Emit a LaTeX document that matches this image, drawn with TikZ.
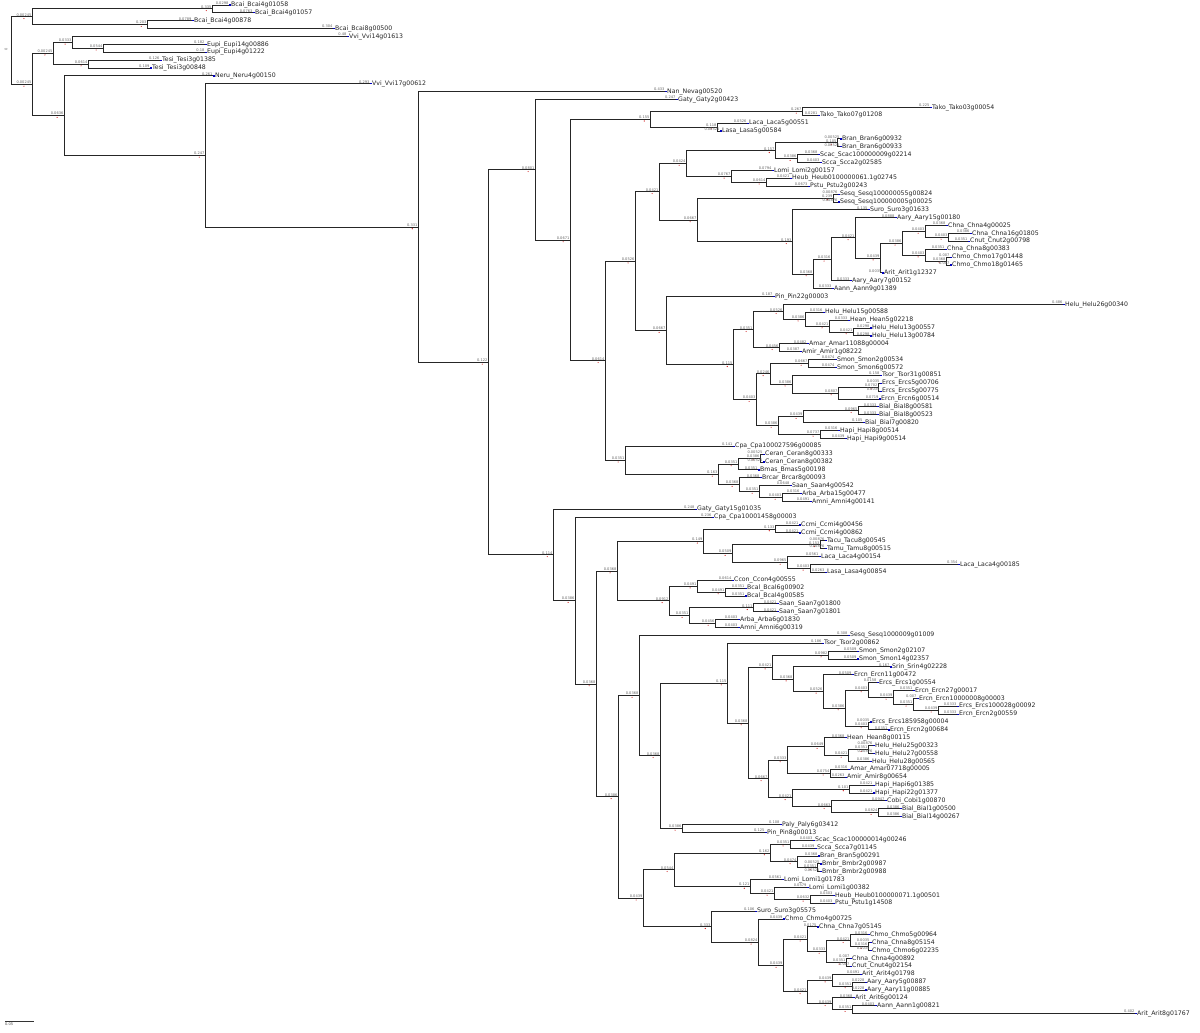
\documentclass[tikz,border=0pt]{standalone}
\usepackage{fontspec}
\newfontfamily\dvs{DejaVu Sans}
\usetikzlibrary{calc}
\newcommand\lffont{\dvs\fontsize{6.2}{7}\selectfont}
\newcommand\blfont{\dvs\fontsize{3.6}{4}\selectfont}
\tikzset{
  branch/.style={draw=black!85, line width=1pt},
  blab/.style={anchor=south east, inner sep=0pt, outer sep=0pt, yshift=0.7pt, xshift=-0.6pt, font=\blfont, text=black!60},
  leafname/.style={anchor=west, inner sep=0pt, xshift=2pt, font=\lffont, text=black!85},
  nodemark/.style={fill=red!80!black},
  leafmark/.style={fill=blue!75!black},
}
\newcommand\lf[3]{\coordinate (L#1) at (#2,#1); \node[leafname] (T#1) at (L#1) {#3};}
\newcommand\nd[3]{\coordinate (#1) at (#2,#3);}
\newcommand\edgelab[3]{%
  \draw[branch] (#2) |- (#3);
  \def\tmplab{#1}%
  \ifx\tmplab\empty
    \path let \p1=(#2), \p2=(#3) in
      node[blab] (bl) at (#3) {\pgfmathsetmacro\blen{(\x2-\x1)/570}\pgfmathtruncatemacro\prc{(\blen<0.01) ? 5 : ((\blen<0.1) ? 4 : 3)}\pgfmathprintnumber[fixed,precision=\prc,assume math mode=true]{\blen}};
  \else
    \node[blab] (bl) at (#3) {#1};
  \fi}
\newcommand\bi[3][]{\edgelab{#1}{#2}{#3}\fill[nodemark] ([yshift=-2.4pt]bl.south) circle (0.55pt);}
\newcommand\bl[3][]{\edgelab{#1}{#2}{L#3}\fill[leafmark] (L#3) ++(0pt,-0.6pt) rectangle ++(1.6pt,1.2pt);}
\begin{document}
\begin{tikzpicture}[x=1pt,y=-7.88pt]
\useasboundingbox[fill=white] (0,-0.6345) rectangle (1200,130.33);
% leaves
\lf{0}{229}{Bcai\_Bcai4g01058}
\lf{1}{253}{Bcai\_Bcai4g01057}
\lf{2}{192}{Bcai\_Bcai4g00878}
\lf{3}{333}{Bcai\_Bcai8g00500}
\lf{4}{347}{Vvi\_Vvi14g01613}
\lf{5}{205}{Eupi\_Eupi14g00886}
\lf{6}{205}{Eupi\_Eupi4g01222}
\lf{7}{160}{Tesi\_Tesi3g01385}
\lf{8}{150}{Tesi\_Tesi3g00848}
\lf{9}{213}{Neru\_Neru4g00150}
\lf{10}{370}{Vvi\_Vvi17g00612}
\lf{11}{665}{Nan\_Nevag00520}
\lf{12}{676}{Gaty\_Gaty2g00423}
\lf{13}{930}{Tako\_Tako03g00054}
\lf{14}{818}{Tako\_Tako07g01208}
\lf{15}{747}{Laca\_Laca5g00551}
\lf{16}{720}{Lasa\_Lasa5g00584}
\lf{17}{840}{Bran\_Bran6g00932}
\lf{18}{840}{Bran\_Bran6g00933}
\lf{19}{818}{Scac\_Scac100000009g02214}
\lf{20}{820}{Scca\_Scca2g02585}
\lf{21}{772}{Lomi\_Lomi2g00157}
\lf{22}{790}{Heub\_Heub0100000061.1g02745}
\lf{23}{808}{Pstu\_Pstu2g00243}
\lf{24}{838}{Sesq\_Sesq100000055g00824}
\lf{25}{838}{Sesq\_Sesq100000005g00025}
\lf{26}{868}{Suro\_Suro3g01633}
\lf{27}{895}{Aary\_Aary15g00180}
\lf{28}{946}{Chna\_Chna4g00025}
\lf{29}{970}{Chna\_Chna16g01805}
\lf{30}{968}{Cnut\_Cnut2g00798}
\lf{31}{945}{Chna\_Chna8g00383}
\lf{32}{950}{Chmo\_Chmo17g01448}
\lf{33}{950}{Chmo\_Chmo18g01465}
\lf{34}{882}{Arit\_Arit1g12327}
\lf{35}{850}{Aary\_Aary7g00152}
\lf{36}{832}{Aann\_Aann9g01389}
\lf{37}{773}{Pin\_Pin22g00003}
\lf{38}{1063}{Helu\_Helu26g00340}
\lf{39}{823}{Helu\_Helu15g00588}
\lf{40}{848}{Hean\_Hean5g02218}
\lf{41}{870}{Helu\_Helu13g00557}
\lf{42}{870}{Helu\_Helu13g00784}
\lf{43}{807}{Amar\_Amar11088g00004}
\lf{44}{800}{Amir\_Amir1g08222}
\lf{45}{835}{Smon\_Smon2g00534}
\lf{46}{835}{Smon\_Smon6g00572}
\lf{47}{880}{Tsor\_Tsor31g00851}
\lf{48}{880}{Ercs\_Ercs5g00706}
\lf{49}{880}{Ercs\_Ercs5g00775}
\lf{50}{879}{Ercn\_Ercn6g00514}
\lf{51}{877}{Bial\_Bial8g00581}
\lf{52}{877}{Bial\_Bial8g00523}
\lf{53}{863}{Bial\_Bial7g00820}
\lf{54}{838}{Hapi\_Hapi8g00514}
\lf{55}{845}{Hapi\_Hapi9g00514}
\lf{56}{733}{Cpa\_Cpa100027596g00085}
\lf{57}{763}{Ceran\_Ceran8g00333}
\lf{58}{763}{Ceran\_Ceran8g00382}
\lf{59}{758}{Bmas\_Bmas5g00198}
\lf{60}{760}{Brcar\_Brcar8g00093}
\lf{61}{790}{Saan\_Saan4g00542}
\lf{62}{800}{Arba\_Arba15g00477}
\lf{63}{810}{Amni\_Amni4g00141}
\lf{64}{695}{Gaty\_Gaty15g01035}
\lf{65}{712}{Cpa\_Cpa10001458g00003}
\lf{66}{799}{Ccmi\_Ccmi4g00456}
\lf{67}{799}{Ccmi\_Ccmi4g00862}
\lf{68}{825}{Tacu\_Tacu8g00545}
\lf{69}{825}{Tamu\_Tamu8g00515}
\lf{70}{819}{Laca\_Laca4g00154}
\lf{71}{958}{Laca\_Laca4g00185}
\lf{72}{825}{Lasa\_Lasa4g00854}
\lf{73}{732}{Ccon\_Ccon4g00555}
\lf{74}{745}{Bcal\_Bcal6g00902}
\lf{75}{745}{Bcal\_Bcal4g00585}
\lf{76}{777}{Saan\_Saan7g01800}
\lf{77}{777}{Saan\_Saan7g01801}
\lf{78}{738}{Arba\_Arba6g01830}
\lf{79}{738}{Amni\_Amni6g00319}
\lf{80}{848}{Sesq\_Sesq1000009g01009}
\lf{81}{822}{Tsor\_Tsor2g00862}
\lf{82}{857}{Smon\_Smon2g02107}
\lf{83}{857}{Smon\_Smon14g02357}
\lf{84}{890}{Srin\_Srin4g02228}
\lf{85}{852}{Ercn\_Ercn11g00472}
\lf{86}{877}{Ercs\_Ercs1g00554}
\lf{87}{913}{Ercn\_Ercn27g00017}
\lf{88}{917}{Ercn\_Ercn10000008g00003}
\lf{89}{957}{Ercs\_Ercs100028g00092}
\lf{90}{957}{Ercn\_Ercn2g00559}
\lf{91}{870}{Ercs\_Ercs185958g00004}
\lf{92}{888}{Ercn\_Ercn2g00684}
\lf{93}{845}{Hean\_Hean8g00115}
\lf{94}{873}{Helu\_Helu25g00323}
\lf{95}{873}{Helu\_Helu27g00558}
\lf{96}{870}{Helu\_Helu28g00565}
\lf{97}{848}{Amar\_Amar07718g00005}
\lf{98}{845}{Amir\_Amir8g00654}
\lf{99}{873}{Hapi\_Hapi6g01385}
\lf{100}{873}{Hapi\_Hapi22g01377}
\lf{101}{885}{Cobi\_Cobi1g00870}
\lf{102}{900}{Bial\_Bial1g00500}
\lf{103}{900}{Bial\_Bial14g00267}
\lf{104}{780}{Paly\_Paly6g03412}
\lf{105}{765}{Pin\_Pin8g00013}
\lf{106}{813}{Scac\_Scac100000014g00246}
\lf{107}{815}{Scca\_Scca7g01145}
\lf{108}{818}{Bran\_Bran5g00291}
\lf{109}{820}{Bmbr\_Bmbr2g00987}
\lf{110}{820}{Bmbr\_Bmbr2g00988}
\lf{111}{782}{Lomi\_Lomi1g01783}
\lf{112}{807}{Lomi\_Lomi1g00382}
\lf{113}{833}{Heub\_Heub0100000071.1g00501}
\lf{114}{833}{Pstu\_Pstu1g14508}
\lf{115}{755}{Suro\_Suro3g05575}
\lf{116}{783}{Chmo\_Chmo4g00725}
\lf{117}{817}{Chna\_Chna7g05145}
\lf{118}{868}{Chmo\_Chmo5g00964}
\lf{119}{870}{Chna\_Chna8g05154}
\lf{120}{870}{Chmo\_Chmo6g02235}
\lf{121}{850}{Chna\_Chna4g00892}
\lf{122}{850}{Cnut\_Cnut4g02154}
\lf{123}{860}{Arit\_Arit4g01798}
\lf{124}{865}{Aary\_Aary5g00887}
\lf{125}{865}{Aary\_Aary11g00885}
\lf{126}{853}{Arit\_Arit6g00124}
\lf{127}{875}{Aann\_Aann1g00821}
\lf{128}{1135}{Arit\_Arit8g01767}
% internal nodes
\nd{R}{11}{5.792}
\nd{P1}{32}{1.5}
\nd{A1a}{212}{0.5}
\nd{A1b}{147}{2.5}
\nd{P2}{32}{10.085}
\nd{P3}{53}{6.125}
\nd{Q1}{72}{4.75}
\nd{Q1b}{103}{5.5}
\nd{Q2}{88}{7.5}
\nd{P4}{64}{14.044}
\nd{P5}{205}{19.088}
\nd{P6}{418}{28.175}
\nd{P7}{488}{45.35}
\nd{P8}{535}{20.912}
\nd{P10}{570}{29.824}
\nd{P11}{650}{14.5}
\nd{P11a}{802}{13.5}
\nd{P11b}{717}{15.5}
\nd{P12}{605}{45.148}
\nd{P13}{635}{32.517}
\nd{P15}{659}{23.705}
\nd{P17}{686}{20.125}
\nd{P19}{775}{18.5}
\nd{P19a}{837}{17.5}
\nd{P19b}{797}{19.5}
\nd{P20}{731}{21.75}
\nd{P20b}{766}{22.5}
\nd{P18}{697}{27.285}
\nd{P21}{833}{24.5}
\nd{P22}{792}{30.070}
\nd{P23}{813}{34.141}
\nd{P24}{831}{32.281}
\nd{P26}{855}{29.563}
\nd{P27}{880}{32.125}
\nd{P28}{902}{30.25}
\nd{P29}{925}{28.75}
\nd{P29b}{948}{29.5}
\nd{P30}{925}{31.75}
\nd{P30b}{946}{32.5}
\nd{P16}{666}{41.328}
\nd{P31}{733}{45.656}
\nd{P32}{753}{41.219}
\nd{P34}{783}{38.938}
\nd{P36}{805}{39.875}
\nd{P37}{829}{40.75}
\nd{P38}{853}{41.5}
\nd{P35}{779}{43.5}
\nd{P33}{756}{50.094}
\nd{P40}{770}{46.813}
\nd{P41}{808}{45.5}
\nd{P42}{792}{48.125}
\nd{P43}{838}{49.25}
\nd{P44}{878}{48.5}
\nd{P39}{778}{53.375}
\nd{P45}{803}{52.25}
\nd{P47}{858}{51.5}
\nd{P46}{820}{54.5}
\nd{P14}{625}{57.781}
\nd{P48}{718}{59.563}
\nd{P49}{738}{58.25}
\nd{P49a}{760}{57.5}
\nd{P50}{739}{60.875}
\nd{P51}{759}{61.75}
\nd{P52}{782}{62.5}
\nd{P9}{553}{69.79}
\nd{P53}{575}{75.59}
\nd{P54}{596}{86.17}
\nd{N64}{617}{71.844}
\nd{N65}{703}{68.063}
\nd{N66}{775}{66.5}
\nd{N67}{732}{69.625}
\nd{N68}{820}{68.5}
\nd{N69}{787}{70.75}
\nd{N70}{810}{71.5}
\nd{N71}{669}{75.625}
\nd{N72}{697}{73.75}
\nd{N74}{725}{74.5}
\nd{N73}{689}{77.5}
\nd{N75}{753}{76.5}
\nd{N76}{715}{78.5}
\nd{N115}{618}{100.50}
\nd{N131}{639}{87.64}
\nd{N79}{660}{95.28}
\nd{N80}{727}{86.06}
\nd{N82}{748}{91.123}
\nd{N83}{772}{84.027}
\nd{N85}{828}{82.5}
\nd{N86}{793}{85.555}
\nd{N87}{823}{87.109}
\nd{N88}{845}{89.219}
\nd{N89}{868}{86.938}
\nd{N91}{893}{87.875}
\nd{N92}{913}{88.75}
\nd{N93}{938}{89.5}
\nd{N90}{868}{91.5}
\nd{N84}{768}{98.219}
\nd{N94}{787}{95.813}
\nd{N96}{824}{94.125}
\nd{N98}{848}{95.25}
\nd{N99}{868}{94.5}
\nd{N97}{830}{97.5}
\nd{N95}{792}{100.625}
\nd{N100}{849}{99.5}
\nd{N101}{831}{101.75}
\nd{N102}{878}{102.5}
\nd{N103}{682}{104.5}
\nd{N113}{643}{113.363}
\nd{N109}{674}{109.75}
\nd{N108}{770}{107.625}
\nd{N106}{790}{106.5}
\nd{N107}{797}{108.75}
\nd{N104}{817}{109.5}
\nd{N110}{750}{111.875}
\nd{N111}{774}{112.75}
\nd{N112}{810}{113.5}
\nd{N114}{711}{116.977}
\nd{N116}{758}{118.953}
\nd{N117}{783}{121.906}
\nd{N118}{807}{118.563}
\nd{N120}{826}{120.125}
\nd{N121}{850}{118.75}
\nd{N123}{868}{119.5}
\nd{N122}{846}{121.5}
\nd{N119}{807}{125.25}
\nd{N124}{832}{123.75}
\nd{N126}{852}{124.5}
\nd{N125}{832}{126.75}
\nd{N127}{852}{127.5}
% edges
\bi[0.00245]{R}{P1} \bi[0.00245]{R}{P2}
\bi[0.335]{P1}{A1a} \bi[0.203]{P1}{A1b}
\bl{A1a}{0} \bl[0.0763]{A1a}{1}
\bl{A1b}{2} \bl[0.304]{A1b}{3}
\bi[0.00245]{P2}{P3} \bi[0.0636]{P2}{P4}
\bi{P3}{Q1} \bi{P3}{Q2}
\bl[0.48]{Q1}{4} \bi{Q1}{Q1b}
\bl[0.182]{Q1b}{5} \bl[0.18]{Q1b}{6}
\bl{Q2}{7} \bl{Q2}{8}
\bl{P4}{9} \bi{P4}{P5}
\bl[0.293]{P5}{10} \bi[0.331]{P5}{P6}
\bl{P6}{11} \bi[0.122]{P6}{P7}
\bi[0.0801]{P7}{P8} \bi{P7}{P9}
\bl{P8}{12} \bi[0.0671]{P8}{P10}
\bi[0.155]{P10}{P11} \bi{P10}{P12}
\bi{P11}{P11a} \bi{P11}{P11b}
\bl{P11a}{13} \bl{P11a}{14}
\bl{P11b}{15} \bl{P11b}{16}
\bi{P12}{P13} \bi{P12}{P14}
\bi{P13}{P15} \bi[0.0667]{P13}{P16}
\bi[0.0424]{P15}{P17} \bi{P15}{P18}
\bi[0.157]{P17}{P19} \bi[0.0767]{P17}{P20}
\bi[0.105]{P19}{P19a} \bi{P19}{P19b}
\bl{P19a}{17} \bl{P19a}{18}
\bl{P19b}{19} \bl{P19b}{20}
\bl[0.0794]{P20}{21} \bi{P20}{P20b}
\bl{P20b}{22} \bl[0.0673]{P20b}{23}
\bi{P18}{P21} \bi[0.193]{P18}{P22}
\bl{P21}{24} \bl{P21}{25}
\bl[0.135]{P22}{26} \bi{P22}{P23}
\bi{P23}{P24} \bl{P23}{36}
\bi{P24}{P26} \bl{P24}{35}
\bl[0.0888]{P26}{27} \bi{P26}{P27}
\bi{P27}{P28} \bl{P27}{34}
\bi{P28}{P29} \bi{P28}{P30}
\bl{P29}{28} \bi{P29}{P29b}
\bl{P29b}{29} \bl{P29b}{30}
\bl{P30}{31} \bi{P30}{P30b}
\bl{P30b}{32} \bl{P30b}{33}
\bl[0.187]{P16}{37} \bi[0.115]{P16}{P31}
\bi{P31}{P32} \bi{P31}{P33}
\bi{P32}{P34} \bi{P32}{P35}
\bl[0.486]{P34}{38} \bi{P34}{P36}
\bl{P36}{39} \bi{P36}{P37}
\bl{P37}{40} \bi{P37}{P38}
\bl{P38}{41} \bl{P38}{42}
\bl[0.0482]{P35}{43} \bl[0.0387]{P35}{44}
\bi{P33}{P40} \bi{P33}{P39}
\bi{P40}{P41} \bi{P40}{P42}
\bl{P41}{45} \bl{P41}{46}
\bl[0.158]{P42}{47} \bi{P42}{P43}
\bi{P43}{P44} \bl{P43}{50}
\bl{P44}{48} \bl{P44}{49}
\bi{P39}{P45} \bi{P39}{P46}
\bi{P45}{P47} \bl[0.105]{P45}{53}
\bl{P47}{51} \bl{P47}{52}
\bl{P46}{54} \bl{P46}{55}
\bl[0.141]{P14}{56} \bi{P14}{P48}
\bi{P48}{P49} \bi{P48}{P50}
\bi{P49}{P49a} \bl{P49}{59}
\bl{P49a}{57} \bl{P49a}{58}
\bl{P50}{60} \bi{P50}{P51}
\bl[0.0648]{P51}{61} \bi{P51}{P52}
\bl{P52}{62} \bl{P52}{63}
\bl[0.248]{P9}{64} \bi{P9}{P53}
\bl[0.236]{P53}{65} \bi{P53}{P54}
\bi{P54}{N64} \bi{P54}{N115}
\bi[0.149]{N64}{N65} \bi{N64}{N71}
\bi[0.133]{N65}{N66} \bi{N65}{N67}
\bl{N66}{66} \bl{N66}{67}
\bi[0.153]{N67}{N68} \bi{N67}{N69}
\bl{N68}{68} \bl{N68}{69}
\bl{N69}{70} \bi{N69}{N70}
\bl[0.354]{N70}{71} \bl{N70}{72}
\bi{N71}{N72} \bi{N71}{N73}
\bl{N72}{73} \bi{N72}{N74}
\bl{N74}{74} \bl{N74}{75}
\bi[0.111]{N73}{N75} \bi{N73}{N76}
\bl{N75}{76} \bl{N75}{77}
\bl{N76}{78} \bl{N76}{79}
\bi{N115}{N131} \bi{N115}{N113}
\bl[0.308]{N131}{80} \bi{N131}{N79}
\bi[0.115]{N79}{N80} \bi{N79}{N103}
\bl[0.186]{N80}{81} \bi{N80}{N82}
\bi{N82}{N83} \bi[0.0667]{N82}{N84}
\bi{N83}{N85} \bi{N83}{N86}
\bl{N85}{82} \bl{N85}{83}
\bl[0.167]{N86}{84} \bi{N86}{N87}
\bl{N87}{85} \bi{N87}{N88}
\bi{N88}{N89} \bi{N88}{N90}
\bl{N89}{86} \bi{N89}{N91}
\bl{N91}{87} \bi{N91}{N92}
\bl{N92}{88} \bi{N92}{N93}
\bl{N93}{89} \bl{N93}{90}
\bl{N90}{91} \bl{N90}{92}
\bi{N84}{N94} \bi{N84}{N95}
\bi{N94}{N96} \bi{N94}{N97}
\bl{N96}{93} \bi{N96}{N98}
\bi{N98}{N99} \bl{N98}{96}
\bl{N99}{94} \bl{N99}{95}
\bl{N97}{97} \bl{N97}{98}
\bi[0.101]{N95}{N100} \bi[0.0663]{N95}{N101}
\bl{N100}{99} \bl{N100}{100}
\bl{N101}{101} \bi{N101}{N102}
\bl{N102}{102} \bl{N102}{103}
\bl[0.108]{N103}{104} \bl[0.125]{N103}{105}
\bi{N113}{N109} \bi[0.333]{N113}{N114}
\bi[0.162]{N109}{N108} \bi[0.121]{N109}{N110}
\bi{N108}{N106} \bi{N108}{N107}
\bl{N106}{106} \bl{N106}{107}
\bl{N107}{108} \bi{N107}{N104}
\bl{N104}{109} \bl{N104}{110}
\bl{N110}{111} \bi{N110}{N111}
\bl{N111}{112} \bi{N111}{N112}
\bl{N112}{113} \bl{N112}{114}
\bl[0.106]{N114}{115} \bi{N114}{N116}
\bl{N116}{116} \bi{N116}{N117}
\bi{N117}{N118} \bi{N117}{N119}
\bl{N118}{117} \bi{N118}{N120}
\bi{N120}{N121} \bi{N120}{N122}
\bl{N121}{118} \bi{N121}{N123}
\bl{N123}{119} \bl{N123}{120}
\bl{N122}{121} \bl{N122}{122}
\bi{N119}{N124} \bi{N119}{N125}
\bl{N124}{123} \bi{N124}{N126}
\bl{N126}{124} \bl{N126}{125}
\bl{N125}{126} \bi{N125}{N127}
\bl{N127}{127} \bl[0.402]{N127}{128}
% root label and scale bar
\node[font=\blfont, text=black!60, rotate=90, inner sep=0pt] (rootlab) at (6,5.6) {0};
\coordinate (sb1) at (5,128.93);
\coordinate (sb2) at (33.5,128.93);
\draw[black!80, line width=0.6pt] (sb1) -- (sb2);
\node[font=\blfont, text=black!70, anchor=north west, inner sep=0pt] (sbt) at ([yshift=-1.5pt]sb1) {0.05};
\end{tikzpicture}
\end{document}
